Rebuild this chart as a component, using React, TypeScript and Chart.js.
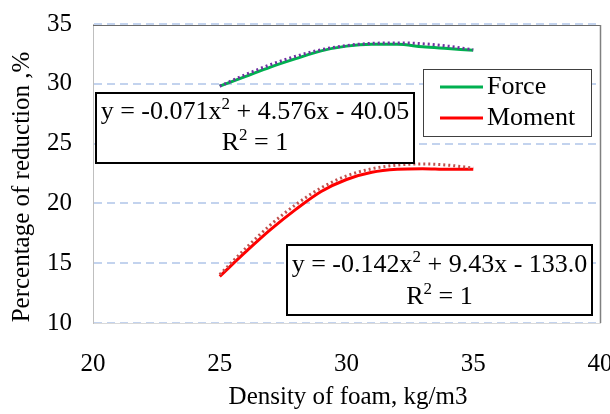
import React, { useEffect, useRef } from "react";
import { Chart, registerables } from "chart.js";

Chart.register(...registerables);

const xValues = [25, 26, 27, 28, 29, 30, 31, 32, 33, 34, 35];
const forceValues = [29.8, 30.6, 31.4, 32.1, 32.75, 33.15, 33.3, 33.3, 33.1, 32.95, 32.8];
const forceTrend = [29.8, 30.75, 31.6, 32.3, 32.85, 33.2, 33.38, 33.42, 33.35, 33.15, 32.85];
const momentValues = [13.9, 15.9, 17.8, 19.5, 21.0, 22.0, 22.6, 22.85, 22.9, 22.85, 22.85];
const momentTrend = [14.05, 16.2, 18.2, 19.9, 21.3, 22.3, 22.9, 23.2, 23.3, 23.2, 22.95];

const seriesNames = ["Force", "Moment"];
const forceEq = ["y = -0.071x", "2", " + 4.576x - 40.05"];
const momentEq = ["y = -0.142x", "2", " + 9.43x - 133.0"];
const r2Text = ["R", "2", " = 1"];
const xTitle = "Density of foam, kg/m3";
const yTitle = "Percentage of reduction ,%";

const FONT = "'Liberation Serif', 'Times New Roman', Times, serif";
const GREEN = "#00b050";
const RED = "#ff0000";

function drawRich(ctx: CanvasRenderingContext2D, parts: string[], cx: number, cy: number, size: number) {
  const supSize = Math.round(size * 0.65);
  const widths = parts.map((p, i) => {
    ctx.font = `${i % 2 === 1 ? supSize : size}px ${FONT}`;
    return ctx.measureText(p).width;
  });
  const total = widths.reduce((a, b) => a + b, 0);
  let x = cx - total / 2;
  ctx.textBaseline = "middle";
  ctx.textAlign = "left";
  ctx.fillStyle = "#000";
  parts.forEach((p, i) => {
    const sup = i % 2 === 1;
    ctx.font = `${sup ? supSize : size}px ${FONT}`;
    ctx.fillText(p, x, sup ? cy - size * 0.28 : cy);
    x += widths[i];
  });
}

const overlay = {
  id: "overlay",
  afterDraw(chart: any) {
    const ctx = chart.ctx as CanvasRenderingContext2D;
    const a = chart.chartArea;
    ctx.save();
    ctx.strokeStyle = "#6b6b6b";
    ctx.lineWidth = 1;
    ctx.beginPath();
    ctx.moveTo(a.left, a.top + 1.5);
    ctx.lineTo(a.right + 0.5, a.top + 1.5);
    ctx.stroke();
    ctx.strokeStyle = "#808080";
    ctx.lineWidth = 1.5;
    ctx.beginPath();
    ctx.moveTo(a.right + 0.5, a.top + 1);
    ctx.lineTo(a.right + 0.5, a.bottom);
    ctx.stroke();

    const boxes = [
      { x: 96, y: 93, w: 318, h: 70, eq: forceEq, l1: 112, l2: 143, cx: 255 },
      { x: 287, y: 245, w: 305, h: 70, eq: momentEq, l1: 265, l2: 297, cx: 439.5 },
    ];
    boxes.forEach((b) => {
      ctx.fillStyle = "#fff";
      ctx.fillRect(b.x, b.y, b.w, b.h);
      ctx.strokeStyle = "#000";
      ctx.lineWidth = 2;
      ctx.strokeRect(b.x, b.y, b.w, b.h);
      drawRich(ctx, b.eq, b.cx, b.l1, 26);
      drawRich(ctx, r2Text, b.cx, b.l2, 26);
    });

    ctx.fillStyle = "#fff";
    ctx.fillRect(423, 69, 168, 67);
    ctx.strokeStyle = "#404040";
    ctx.lineWidth = 1;
    ctx.strokeRect(423.5, 69.5, 168, 67);
    const colors = [GREEN, RED];
    const ys = [87, 118];
    seriesNames.forEach((n, i) => {
      ctx.strokeStyle = colors[i];
      ctx.lineWidth = 3;
      ctx.beginPath();
      ctx.moveTo(440, ys[i]);
      ctx.lineTo(483, ys[i]);
      ctx.stroke();
      ctx.fillStyle = "#000";
      ctx.font = `26px ${FONT}`;
      ctx.textAlign = "left";
      ctx.textBaseline = "middle";
      ctx.fillText(n, 487, ys[i]);
    });

    ctx.fillStyle = "#000";
    ctx.font = `25px ${FONT}`;
    ctx.textAlign = "center";
    ctx.textBaseline = "middle";
    ctx.fillText(xTitle, 348, 397);
    ctx.save();
    ctx.translate(22, 187);
    ctx.rotate(-Math.PI / 2);
    ctx.fillText(yTitle, 0, 0);
    ctx.restore();
    ctx.restore();
  },
};

export default function App() {
  const ref = useRef<HTMLCanvasElement>(null);
  useEffect(() => {
    document.body.style.margin = "0";
    const toPts = (ys: number[]) => xValues.map((x, i) => ({ x, y: ys[i] }));
    const chart = new Chart(ref.current!, {
      type: "line",
      data: {
        datasets: [
          { label: "Force trend", data: toPts(forceTrend), borderColor: "#7030a0", borderWidth: 3, borderDash: [2, 3], pointRadius: 0, cubicInterpolationMode: "monotone", order: 0 },
          { label: "Moment trend", data: toPts(momentTrend), borderColor: "#c0504d", borderWidth: 3, borderDash: [2, 3], pointRadius: 0, cubicInterpolationMode: "monotone", order: 0 },
          { label: seriesNames[0], data: toPts(forceValues), borderColor: GREEN, borderWidth: 3, pointRadius: 0, cubicInterpolationMode: "monotone", order: 1 },
          { label: seriesNames[1], data: toPts(momentValues), borderColor: RED, borderWidth: 3, pointRadius: 0, cubicInterpolationMode: "monotone", order: 1 },
        ],
      },
      options: {
        responsive: false,
        animation: false,
        layout: { padding: { top: 24, right: 10, left: 0, bottom: 0 } },
        plugins: { legend: { display: false }, tooltip: { enabled: false } },
        scales: {
          x: {
            type: "linear",
            min: 20,
            max: 40,
            ticks: { stepSize: 5, color: "#000", font: { family: FONT, size: 25 }, padding: 26, maxRotation: 0 },
            grid: { display: false, drawTicks: false },
            border: { display: true, color: "#d9d9d9" },
            afterFit: (s: any) => { s.height = 91; s.paddingLeft = 0; s.paddingRight = 0; s.paddingTop = 0; s.paddingBottom = 0; },
          },
          y: {
            min: 10,
            max: 35,
            ticks: { stepSize: 5, color: "#000", font: { family: FONT, size: 25 }, padding: 21 },
            grid: { color: "#c3d3ee", lineWidth: 2, drawTicks: false },
            border: { display: true, color: "#bfbfbf", dash: [8, 5] },
            afterFit: (s: any) => { s.width = 93; s.paddingLeft = 0; s.paddingRight = 0; s.paddingTop = 0; s.paddingBottom = 0; },
          },
        },
      },
      plugins: [overlay],
    } as any);
    let alive = true;
    if ((document as any).fonts) {
      Promise.all([
        (document as any).fonts.load("25px 'Liberation Serif'"),
        (document as any).fonts.load("16px 'Liberation Serif'"),
      ]).then(() => { if (alive) chart.update(); }).catch(() => {});
    }
    return () => { alive = false; chart.destroy(); };
  }, []);
  return (
    <div style={{ width: 610, height: 414 }}>
      <span style={{ fontFamily: "'Liberation Serif'", position: "absolute", left: -9999 }}>a</span>
      <canvas ref={ref} width={610} height={414} />
    </div>
  );
}
